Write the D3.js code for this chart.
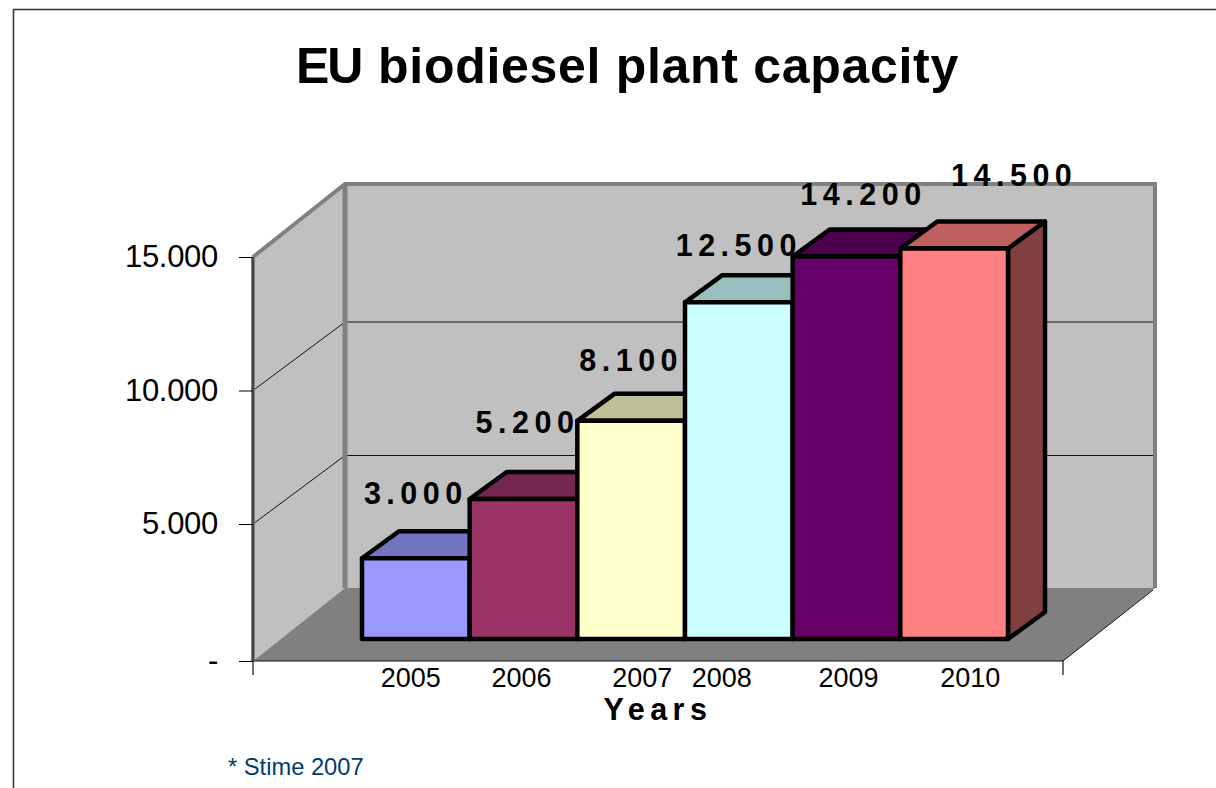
<!DOCTYPE html>
<html>
<head>
<meta charset="utf-8">
<title>EU biodiesel plant capacity</title>
<script src="https://d3js.org/d3.v7.min.js"></script>
<style>
  html, body { margin: 0; padding: 0; background: #fff; overflow: hidden; }
  text { font-family: "Liberation Sans", Arial, sans-serif; fill: #000; }
</style>
</head>
<body>
<div id="chart"></div>
<script>
const years = ['2005', '2006', '2007', '2008', '2009', '2010'];
const capacity = [3000, 5200, 8100, 12500, 14200, 14500];
const valueTicks = [0, 5000, 10000, 15000];

const frontColors = ['#9999ff', '#993366', '#ffffcc', '#ccffff', '#660066', '#ff8080'];
const topColors = ['#7373bf', '#732650', '#bfbf99', '#99bfbf', '#4d004d', '#bf6060'];
const sideColors = ['#4d4d80', '#4d1a33', '#808066', '#668080', '#330033', '#804040'];

// the year labels and value labels were placed by hand in the original
const yearNudge = [-5, -2, 11, -17, 2, 16];
const labelNudge = [[0, -54], [4, -66], [0, -50], [0, -46], [17, -52], [60, -62]];

const width = 1216, height = 788;

// floor and wall corners, depth is the shift from the front of the box to the back
const plot = { left: 253, right: 1063, top: 257, bottom: 661 };
const wallDepth = { x: 92, y: -73 };
const gridDepthY = -68.5;
const barDepth = { x: 37, y: -27 };
const barFloor = { left: 362, right: 1008, lift: -22 };

const svg = d3.select('#chart').append('svg')
    .attr('width', width)
    .attr('height', height);

const yScale = d3.scaleLinear().domain([0, 15000]).range([plot.bottom, plot.top]);
// the axis of the original is not quite even, ticks sit a little higher than the bars' scale
const tickScale = d3.scaleLinear().domain(valueTicks).range([plot.bottom, 524, 390.5, plot.top]);
const xBand = d3.scaleBand().domain(years).range([barFloor.left, barFloor.right]);

const poly = pts => pts.map(p => p.join(',')).join(' ');
const dotted = d => d3.format(',')(d).replace(/,/g, '.');

// page frame, only left and top are in the picture
svg.append('path')
    .attr('d', `M13.5,${height}V9.5H${width}`)
    .attr('fill', 'none')
    .attr('stroke', '#333')
    .attr('stroke-width', 1.5);

// title
const title = svg.append('text')
    .attr('x', 296)
    .attr('y', 82.5)
    .attr('font-size', 50)
    .attr('font-weight', 'bold');
title.append('tspan').attr('letter-spacing', -2).text('EU');
title.append('tspan').attr('letter-spacing', 0.7).attr('dx', 2).text(' biodiesel plant capacity');

// walls and floor
const dx = wallDepth.x, dy = wallDepth.y;
svg.append('polygon')
    .attr('points', poly([[plot.left, plot.top], [plot.left + dx, plot.top + dy], [plot.left + dx, plot.bottom + dy], [plot.left, plot.bottom]]))
    .attr('fill', '#c0c0c0');
svg.append('polygon')
    .attr('points', poly([[plot.left + dx, plot.top + dy], [plot.right + dx, plot.top + dy], [plot.right + dx, plot.bottom + dy], [plot.left + dx, plot.bottom + dy]]))
    .attr('fill', '#c0c0c0');
svg.append('polygon')
    .attr('points', poly([[plot.left, plot.bottom], [plot.right, plot.bottom], [plot.right + dx, plot.bottom + dy], [plot.left + dx, plot.bottom + dy]]))
    .attr('fill', '#808080');

// gridlines, they run along the left wall and then the back wall
svg.append('g')
    .selectAll('polyline')
    .data(valueTicks.filter(d => d > 0 && d < 15000))
    .enter()
    .append('polyline')
    .attr('points', d => poly([[plot.left, tickScale(d)], [plot.left + dx, tickScale(d) + gridDepthY], [plot.right + dx, tickScale(d) + gridDepthY]]))
    .attr('fill', 'none')
    .attr('stroke', '#111')
    .attr('stroke-width', 1);

// thick gray edges of the walls
svg.append('polyline')
    .attr('points', poly([[plot.left, plot.top], [plot.left + dx, plot.top + dy], [plot.right + dx, plot.top + dy], [plot.right + dx, plot.bottom + dy]]))
    .attr('fill', 'none')
    .attr('stroke', '#808080')
    .attr('stroke-width', 4);
svg.append('line')
    .attr('x1', plot.left + dx).attr('x2', plot.left + dx)
    .attr('y1', plot.top + dy).attr('y2', plot.bottom + dy)
    .attr('stroke', '#808080')
    .attr('stroke-width', 5);
svg.append('line')
    .attr('x1', plot.left).attr('x2', plot.left)
    .attr('y1', plot.top).attr('y2', plot.bottom)
    .attr('stroke', '#808080')
    .attr('stroke-width', 4);
svg.append('line')
    .attr('x1', plot.left).attr('x2', plot.left)
    .attr('y1', plot.top).attr('y2', plot.bottom)
    .attr('stroke', '#333')
    .attr('stroke-width', 1.5);

// floor front corner to the back
svg.append('line')
    .attr('x1', plot.right).attr('y1', plot.bottom)
    .attr('x2', plot.right + dx - 2).attr('y2', plot.bottom + dy + 2)
    .attr('stroke', '#111')
    .attr('stroke-width', 1);

// value axis
const yAxis = d3.axisLeft(tickScale)
    .tickValues(valueTicks)
    .tickSize(14)
    .tickPadding(21)
    .tickFormat(d => d === 0 ? '-' : dotted(d));
const yAxisGroup = svg.append('g')
    .attr('transform', `translate(${plot.left}, 0)`)
    .call(yAxis);
yAxisGroup.select('.domain').remove();
yAxisGroup.selectAll('text')
    .attr('font-size', 31)
    .attr('letter-spacing', -0.3)
    .attr('font-family', '"Liberation Sans", Arial, sans-serif');

// category axis, labels only, the ticks only sit at both ends
const xAxis = d3.axisBottom(xBand).tickSize(0).tickPadding(7);
const xAxisGroup = svg.append('g')
    .attr('transform', `translate(0, ${plot.bottom})`)
    .call(xAxis);
xAxisGroup.select('.domain').remove();
xAxisGroup.selectAll('text')
    .attr('font-size', 27)
    .attr('font-family', '"Liberation Sans", Arial, sans-serif')
    .attr('dx', (d, i) => yearNudge[i]);

svg.append('path')
    .attr('d', `M${plot.left},${plot.bottom}H${plot.right}V${plot.bottom + 14}M${plot.left},${plot.bottom}V${plot.bottom + 14}`)
    .attr('fill', 'none')
    .attr('stroke', '#111')
    .attr('stroke-width', 1.2);

// bars, drawn left to right so each one covers the side of the one before
const bars = svg.append('g')
    .selectAll('g')
    .data(years)
    .enter()
    .append('g')
    .attr('stroke', '#000')
    .attr('stroke-width', 4.5)
    .attr('stroke-linejoin', 'round');

const x0 = d => xBand(d);
const x1 = d => xBand(d) + xBand.bandwidth();
const yBase = yScale(0) + barFloor.lift;
const yTop = (d, i) => yScale(capacity[i]) + barFloor.lift;

bars.append('polygon')
    .attr('fill', (d, i) => sideColors[i])
    .attr('points', (d, i) => poly([[x1(d), yTop(d, i)], [x1(d) + barDepth.x, yTop(d, i) + barDepth.y], [x1(d) + barDepth.x, yBase + barDepth.y], [x1(d), yBase]]));
bars.append('polygon')
    .attr('fill', (d, i) => topColors[i])
    .attr('points', (d, i) => poly([[x0(d), yTop(d, i)], [x0(d) + barDepth.x, yTop(d, i) + barDepth.y], [x1(d) + barDepth.x, yTop(d, i) + barDepth.y], [x1(d), yTop(d, i)]]));
bars.append('rect')
    .attr('fill', (d, i) => frontColors[i])
    .attr('x', d => x0(d))
    .attr('y', (d, i) => yTop(d, i))
    .attr('width', xBand.bandwidth())
    .attr('height', (d, i) => yBase - yTop(d, i));

// value labels
svg.append('g')
    .selectAll('text')
    .data(years)
    .enter()
    .append('text')
    .attr('x', (d, i) => xBand(d) + xBand.bandwidth() / 2 + labelNudge[i][0])
    .attr('y', (d, i) => yTop(d, i) + labelNudge[i][1])
    .attr('text-anchor', 'middle')
    .attr('font-size', 30.5)
    .attr('font-weight', 'bold')
    .attr('letter-spacing', 5.5)
    .text((d, i) => dotted(capacity[i]));

// axis title
svg.append('text')
    .attr('x', 658)
    .attr('y', 720)
    .attr('text-anchor', 'middle')
    .attr('font-size', 30.5)
    .attr('font-weight', 'bold')
    .attr('letter-spacing', 5.5)
    .text('Years');

// footnote
svg.append('text')
    .attr('x', 228)
    .attr('y', 775)
    .attr('font-size', 23.7)
    .style('fill', '#003b70')
    .text('* Stime 2007');
</script>
</body>
</html>
